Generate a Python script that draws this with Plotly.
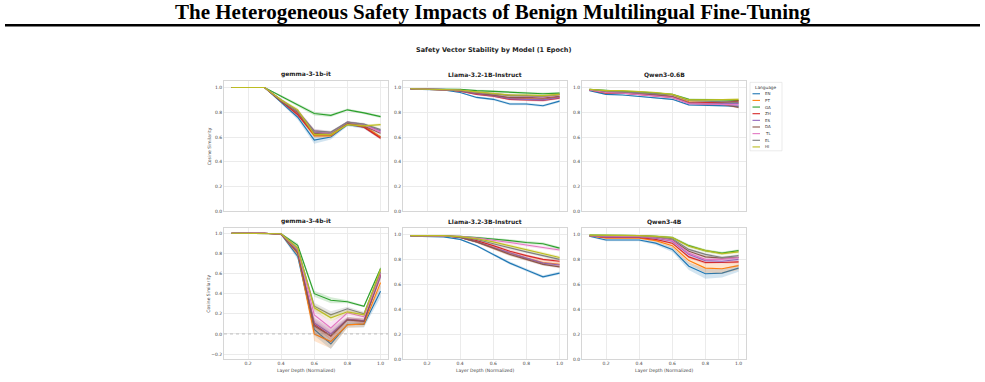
import plotly.graph_objects as go

# ---------------- data ----------------
X_DEPTH = [0.1, 0.2, 0.3, 0.4, 0.5, 0.6, 0.7, 0.8, 0.9, 1.0]
LANGS = ["EN", "PT", "GA", "ZH", "ES", "DA", "TL", "EL", "HI"]
COLORS = ["#1f77b4", "#ff7f0e", "#2ca02c", "#d62728", "#9467bd",
          "#8c564b", "#e377c2", "#7f7f7f", "#bcbd22"]
MODELS = ["gemma-3-1b-it", "Llama-3.2-1B-Instruct", "Qwen3-0.6B",
          "gemma-3-4b-it", "Llama-3.2-3B-Instruct", "Qwen3-4B"]
Y_TICKS = [-0.2, 0.0, 0.2, 0.4, 0.6, 0.8, 1.0]
X_TICKS = [0.2, 0.4, 0.6, 0.8, 1.0]

GEMMA_1B = {
    "EN": [1.0, 1.0, 1.0, 0.88, 0.76, 0.575, 0.60, 0.70, 0.68, 0.60],
    "PT": [1.0, 1.0, 1.0, 0.89, 0.79, 0.61, 0.61, 0.71, 0.69, 0.60],
    "GA": [1.0, 1.0, 1.0, 0.93, 0.86, 0.79, 0.775, 0.82, 0.795, 0.765],
    "ZH": [1.0, 1.0, 1.0, 0.89, 0.78, 0.62, 0.62, 0.71, 0.68, 0.59],
    "ES": [1.0, 1.0, 1.0, 0.90, 0.80, 0.64, 0.63, 0.72, 0.70, 0.65],
    "DA": [1.0, 1.0, 1.0, 0.89, 0.80, 0.63, 0.62, 0.715, 0.69, 0.63],
    "TL": [1.0, 1.0, 1.0, 0.90, 0.81, 0.65, 0.635, 0.72, 0.70, 0.64],
    "EL": [1.0, 1.0, 1.0, 0.90, 0.81, 0.65, 0.64, 0.72, 0.705, 0.66],
    "HI": [1.0, 1.0, 1.0, 0.90, 0.82, 0.62, 0.62, 0.70, 0.69, 0.70],
}
LLAMA_1B = {
    "EN": [0.987, 0.985, 0.98, 0.96, 0.92, 0.905, 0.867, 0.867, 0.853, 0.89],
    "PT": [0.99, 0.985, 0.985, 0.975, 0.955, 0.94, 0.915, 0.91, 0.905, 0.925],
    "GA": [0.99, 0.988, 0.988, 0.985, 0.975, 0.97, 0.96, 0.955, 0.95, 0.955],
    "ZH": [0.99, 0.985, 0.984, 0.97, 0.945, 0.93, 0.905, 0.90, 0.895, 0.915],
    "ES": [0.99, 0.985, 0.985, 0.972, 0.95, 0.935, 0.91, 0.905, 0.90, 0.92],
    "DA": [0.99, 0.985, 0.985, 0.975, 0.955, 0.94, 0.92, 0.92, 0.915, 0.93],
    "TL": [0.99, 0.986, 0.986, 0.978, 0.96, 0.95, 0.935, 0.93, 0.925, 0.94],
    "EL": [0.99, 0.986, 0.986, 0.978, 0.962, 0.95, 0.935, 0.935, 0.93, 0.945],
    "HI": [0.99, 0.987, 0.987, 0.98, 0.965, 0.955, 0.94, 0.94, 0.935, 0.945],
}
QWEN_06B = {
    "EN": [0.975, 0.945, 0.94, 0.93, 0.92, 0.905, 0.86, 0.855, 0.855, 0.85],
    "PT": [0.98, 0.965, 0.96, 0.955, 0.945, 0.93, 0.885, 0.88, 0.88, 0.875],
    "GA": [0.985, 0.975, 0.97, 0.965, 0.955, 0.945, 0.905, 0.905, 0.90, 0.895],
    "ZH": [0.98, 0.955, 0.955, 0.945, 0.935, 0.92, 0.875, 0.875, 0.88, 0.89],
    "ES": [0.98, 0.96, 0.955, 0.95, 0.94, 0.925, 0.875, 0.87, 0.87, 0.87],
    "DA": [0.98, 0.96, 0.955, 0.95, 0.94, 0.925, 0.875, 0.865, 0.865, 0.84],
    "TL": [0.98, 0.96, 0.955, 0.945, 0.935, 0.92, 0.87, 0.865, 0.865, 0.86],
    "EL": [0.985, 0.97, 0.965, 0.96, 0.95, 0.94, 0.895, 0.89, 0.885, 0.88],
    "HI": [0.985, 0.975, 0.975, 0.97, 0.96, 0.945, 0.90, 0.90, 0.90, 0.905],
}
GEMMA_4B = {
    "EN": [1.0, 1.0, 1.0, 0.99, 0.77, 0.045, -0.10, 0.095, 0.095, 0.425],
    "PT": [1.0, 1.0, 1.0, 0.99, 0.80, 0.0, -0.075, 0.09, 0.10, 0.51],
    "GA": [1.0, 1.0, 1.0, 0.995, 0.88, 0.40, 0.335, 0.32, 0.275, 0.65],
    "ZH": [1.0, 1.0, 1.0, 0.99, 0.82, 0.095, -0.02, 0.145, 0.13, 0.59],
    "ES": [1.0, 1.0, 1.0, 0.99, 0.82, 0.11, 0.0, 0.145, 0.13, 0.57],
    "DA": [1.0, 1.0, 1.0, 0.99, 0.81, 0.08, -0.02, 0.14, 0.125, 0.59],
    "TL": [1.0, 1.0, 1.0, 0.995, 0.84, 0.19, 0.06, 0.21, 0.17, 0.60],
    "EL": [1.0, 1.0, 1.0, 0.995, 0.85, 0.276, 0.19, 0.25, 0.20, 0.62],
    "HI": [1.0, 1.0, 1.0, 0.995, 0.85, 0.26, 0.16, 0.22, 0.19, 0.64],
}
LLAMA_3B = {
    "EN": [0.987, 0.985, 0.98, 0.96, 0.91, 0.84, 0.77, 0.715, 0.66, 0.69],
    "PT": [0.99, 0.99, 0.99, 0.975, 0.94, 0.895, 0.85, 0.81, 0.775, 0.76],
    "GA": [0.99, 0.99, 0.99, 0.985, 0.975, 0.965, 0.95, 0.935, 0.925, 0.89],
    "ZH": [0.99, 0.99, 0.99, 0.978, 0.95, 0.91, 0.865, 0.83, 0.80, 0.785],
    "ES": [0.99, 0.99, 0.99, 0.975, 0.94, 0.895, 0.85, 0.81, 0.77, 0.755],
    "DA": [0.99, 0.99, 0.99, 0.975, 0.94, 0.89, 0.84, 0.80, 0.76, 0.74],
    "TL": [0.99, 0.99, 0.99, 0.985, 0.97, 0.955, 0.935, 0.915, 0.895, 0.875],
    "EL": [0.99, 0.99, 0.99, 0.98, 0.96, 0.925, 0.89, 0.86, 0.83, 0.80],
    "HI": [0.99, 0.99, 0.99, 0.982, 0.965, 0.94, 0.91, 0.88, 0.85, 0.815],
}
QWEN_4B = {
    "EN": [0.985, 0.955, 0.955, 0.955, 0.93, 0.88, 0.745, 0.685, 0.69, 0.73],
    "PT": [0.99, 0.97, 0.97, 0.97, 0.95, 0.91, 0.79, 0.73, 0.725, 0.75],
    "GA": [0.995, 0.995, 0.995, 0.99, 0.985, 0.975, 0.91, 0.87, 0.85, 0.87],
    "ZH": [0.99, 0.975, 0.975, 0.975, 0.96, 0.93, 0.82, 0.775, 0.775, 0.78],
    "ES": [0.99, 0.98, 0.98, 0.98, 0.97, 0.945, 0.84, 0.79, 0.785, 0.80],
    "DA": [0.99, 0.985, 0.985, 0.985, 0.975, 0.955, 0.865, 0.82, 0.81, 0.815],
    "TL": [0.99, 0.985, 0.985, 0.985, 0.975, 0.95, 0.85, 0.80, 0.80, 0.815],
    "EL": [0.99, 0.99, 0.99, 0.99, 0.98, 0.965, 0.88, 0.84, 0.815, 0.83],
    "HI": [0.995, 0.995, 0.995, 0.99, 0.985, 0.975, 0.905, 0.87, 0.845, 0.86],
}
MODEL_DATA = [GEMMA_1B, LLAMA_1B, QWEN_06B, GEMMA_4B, LLAMA_3B, QWEN_4B]

# confidence band half-widths (read from the shaded regions)
CI_DEFAULT = [
    [0, 0, 0, 0.01, 0.015, 0.015, 0.012, 0.01, 0.01, 0.012],
    [0.002, 0.002, 0.002, 0.005, 0.008, 0.01, 0.01, 0.01, 0.01, 0.01],
    [0.003, 0.005, 0.005, 0.005, 0.006, 0.006, 0.008, 0.008, 0.008, 0.01],
    [0, 0, 0, 0.005, 0.02, 0.035, 0.035, 0.02, 0.02, 0.03],
    [0.002, 0.002, 0.002, 0.005, 0.008, 0.01, 0.012, 0.012, 0.012, 0.012],
    [0.003, 0.005, 0.005, 0.005, 0.008, 0.01, 0.012, 0.012, 0.012, 0.012],
]
CI_SPECIAL = [
    {"EN": [0, 0, 0, 0.012, 0.02, 0.03, 0.02, 0.012, 0.012, 0.015]},
    {},
    {},
    {"EN": [0, 0, 0, 0.01, 0.03, 0.06, 0.05, 0.03, 0.03, 0.06],
     "PT": [0, 0, 0, 0.01, 0.03, 0.07, 0.07, 0.03, 0.03, 0.05],
     "DA": [0, 0, 0, 0.01, 0.03, 0.08, 0.08, 0.03, 0.03, 0.04],
     "TL": [0, 0, 0, 0.01, 0.03, 0.06, 0.06, 0.03, 0.02, 0.04],
     "GA": [0, 0, 0, 0.005, 0.02, 0.03, 0.03, 0.015, 0.01, 0.02]},
    {"PT": [0.002, 0.002, 0.002, 0.006, 0.01, 0.015, 0.02, 0.02, 0.02, 0.02]},
    {"EN": [0.005, 0.01, 0.01, 0.01, 0.015, 0.02, 0.03, 0.04, 0.035, 0.03],
     "PT": [0.003, 0.005, 0.005, 0.005, 0.01, 0.02, 0.03, 0.04, 0.04, 0.035]},
]

# ---------------- layout geometry (pixels) ----------------
W, H = 985, 382
COL_PX = [(224, 388), (403, 567), (582, 746)]
ROW_PX = [(82, 213), (230, 362)]
Y_RANGES = [(0, 1.05), (0, 1.05), (0, 1.05), (-0.25, 1.05), (0, 1.05), (0, 1.05)]
X_RANGE = (0.055, 1.045)


def fx(p):
    return p / W


def fy(p):
    return 1 - p / H


def rgba(hexc, a):
    h = hexc.lstrip("#")
    r, g, b = int(h[0:2], 16), int(h[2:4], 16), int(h[4:6], 16)
    return f"rgba({r},{g},{b},{a})"


def note(text, xp, yp, size, color="#444444", family="DejaVu Sans",
         xanchor="center", angle=0):
    return dict(text=text, x=fx(xp), y=fy(yp), xref="paper", yref="paper",
                xanchor=xanchor, yanchor="middle", showarrow=False, textangle=angle,
                font=dict(family=family, size=size, color=color))


FONT = "DejaVu Sans"
fig = go.Figure()
annotations = []
shapes = []

for k, (model, data) in enumerate(zip(MODELS, MODEL_DATA)):
    row, col = divmod(k, 3)
    ax = "" if k == 0 else str(k + 1)
    xa, ya = "x" + ax, "y" + ax
    for li, lang in enumerate(LANGS):
        vals = data[lang]
        hw = CI_SPECIAL[k].get(lang, CI_DEFAULT[k])
        upper = [v + h for v, h in zip(vals, hw)]
        lower = [v - h for v, h in zip(vals, hw)]
        fig.add_trace(go.Scatter(
            x=X_DEPTH + X_DEPTH[::-1], y=upper + lower[::-1],
            fill="toself", fillcolor=rgba(COLORS[li], 0.2),
            line=dict(width=0), mode="lines", hoverinfo="skip",
            showlegend=False, xaxis=xa, yaxis=ya))
        fig.add_trace(go.Scatter(
            x=X_DEPTH, y=vals, mode="lines", name=lang,
            line=dict(color=COLORS[li], width=1.15),
            showlegend=False, xaxis=xa, yaxis=ya))

    x0, x1 = COL_PX[col]
    top, bot = ROW_PX[row]
    yr = Y_RANGES[k]
    common = dict(showgrid=True, gridcolor="#ebebeb", gridwidth=0.8,
                  showline=True, mirror=True, linecolor="#d6d6d6", linewidth=0.8,
                  zeroline=False, ticks="",
                  tickfont=dict(family=FONT, size=4.5, color="#444444"))
    fig.update_layout(**{
        ("xaxis" + ax): dict(domain=[fx(x0), fx(x1)], range=list(X_RANGE),
                             tickvals=X_TICKS, ticktext=[f"{t:.1f}" for t in X_TICKS],
                             showticklabels=(row == 1), anchor=ya, **common),
        ("yaxis" + ax): dict(domain=[fy(bot), fy(top)], range=list(yr),
                             tickvals=[t for t in Y_TICKS if yr[0] <= t <= yr[1]],
                             ticktext=[f"{t:.1f}".replace("-", "\u2212") for t in Y_TICKS
                                       if yr[0] <= t <= yr[1]],
                             anchor=xa, **common),
    })
    annotations.append(note(f"<b>{model}</b>", (x0 + x1) / 2, top - 7, 6, "#222222"))
    if col == 0:
        annotations.append(note("Cosine Similarity", x0 - 15, (top + bot) / 2, 4.5, angle=-90))
    if row == 1:
        annotations.append(note("Layer Depth (Normalized)", (x0 + x1) / 2, 373, 4.5))

# dashed zero reference on gemma-3-4b-it
shapes.append(dict(type="line", xref="x4 domain", x0=0, x1=1, yref="y4", y0=0, y1=0,
                   line=dict(color="#999999", width=0.6, dash="dot")))

# page title and rule
annotations.append(note("<b>The Heterogeneous Safety Impacts of Benign Multilingual Fine-Tuning</b>",
                        492.5, 12, 21, "#000000", family="Liberation Serif"))
shapes.append(dict(type="line", xref="paper", yref="paper", x0=fx(5), x1=fx(980),
                   y0=fy(25.5), y1=fy(25.5), line=dict(color="#000000", width=2.5)))
# figure suptitle
annotations.append(note("<b>Safety Vector Stability by Model (1 Epoch)</b>", 493, 50, 6.5, "#222222"))

# legend (drawn manually for compact spacing)
LX0, LX1, LY0, LY1 = 750, 782, 83, 152
shapes.append(dict(type="rect", xref="paper", yref="paper", x0=fx(LX0), x1=fx(LX1),
                   y0=fy(LY1), y1=fy(LY0), line=dict(color="#dddddd", width=0.6),
                   fillcolor="rgba(255,255,255,0.9)"))
annotations.append(note("Language", (LX0 + LX1) / 2, 88, 4.3, "#333333"))
for li, lang in enumerate(LANGS):
    yy = 94.5 + li * 6.7
    shapes.append(dict(type="line", xref="paper", yref="paper", x0=fx(752.5), x1=fx(760),
                       y0=fy(yy), y1=fy(yy), line=dict(color=COLORS[li], width=1.1)))
    annotations.append(note(lang, 763, yy, 4.0, "#333333", xanchor="left"))

fig.update_layout(width=W, height=H, margin=dict(l=0, r=0, t=0, b=0),
                  paper_bgcolor="white", plot_bgcolor="white",
                  showlegend=False, annotations=annotations, shapes=shapes)

fig.write_html("out.html")
